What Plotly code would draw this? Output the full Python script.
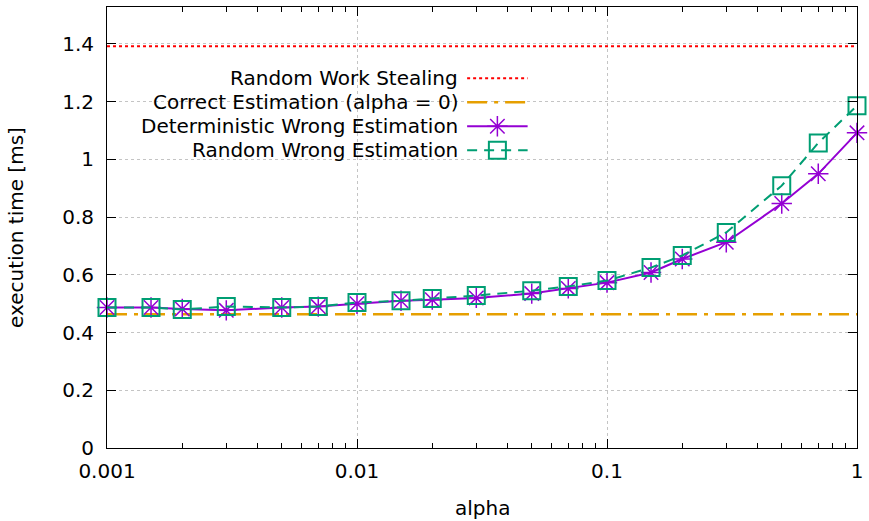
import plotly.graph_objects as go

# alpha values (log scale) and measured execution times [ms]
alpha = [0.001, 0.0015, 0.002, 0.003, 0.005, 0.007, 0.01, 0.015, 0.02, 0.03,
         0.05, 0.07, 0.1, 0.15, 0.2, 0.3, 0.5, 0.7, 1.0]
deterministic_wrong = [0.487, 0.487, 0.482, 0.477, 0.487, 0.490, 0.500, 0.510, 0.514, 0.520,
                       0.535, 0.553, 0.573, 0.608, 0.655, 0.713, 0.847, 0.950, 1.092]
random_wrong = [0.487, 0.487, 0.480, 0.490, 0.487, 0.490, 0.504, 0.510, 0.518, 0.528,
                0.545, 0.560, 0.580, 0.625, 0.667, 0.747, 0.909, 1.057, 1.186]
random_work_stealing = 1.392
correct_estimation = 0.463

x_ticks = [0.001, 0.01, 0.1, 1]
x_ticktext = ["0.001", "0.01", "0.1", "1"]
x_minor = [m * d for d in (0.001, 0.01, 0.1) for m in range(2, 10)]
y_ticks = [0, 0.2, 0.4, 0.6, 0.8, 1.0, 1.2, 1.4]
y_ticktext = ["0", "0.2", "0.4", "0.6", "0.8", "1", "1.2", "1.4"]

legend_names = ["Random Work Stealing", "Correct Estimation (alpha = 0)",
                "Deterministic Wrong Estimation", "Random Wrong Estimation"]

RED = "#ff0000"
ORANGE = "#e69f00"
PURPLE = "#9400d3"
GREEN = "#009e73"
FONT = "DejaVu Sans"
FS = 20

W, H = 869, 521
L, R, T, B = 107, 6, 6, 73

styles = [
    dict(color=RED, width=2, dash="dot"),
    dict(color=ORANGE, width=2.5, dash="20px,7px,4px,7px"),
    dict(color=PURPLE, width=2),
    dict(color=GREEN, width=2, dash="10px,7px"),
]
star = dict(symbol="asterisk-open", size=17, color=PURPLE,
            line=dict(color=PURPLE, width=1.5))
box = dict(symbol="square-open", size=17, color=GREEN,
           line=dict(color=GREEN, width=2))

fig = go.Figure()

x_span = [alpha[0], alpha[-1]]
fig.add_trace(go.Scatter(x=x_span, y=[random_work_stealing] * 2, mode="lines",
                         line=styles[0], showlegend=False, hoverinfo="skip"))
fig.add_trace(go.Scatter(x=x_span, y=[correct_estimation] * 2, mode="lines",
                         line=styles[1], showlegend=False, hoverinfo="skip"))
fig.add_trace(go.Scatter(x=alpha, y=deterministic_wrong, mode="lines+markers",
                         line=styles[2], marker=star,
                         showlegend=False, cliponaxis=False))
fig.add_trace(go.Scatter(x=alpha, y=random_wrong, mode="lines+markers",
                         line=styles[3], marker=box,
                         showlegend=False, cliponaxis=False))

# key drawn in pixel-like overlay coordinates (text right-aligned, sample to the right)
key_rows = [77.5, 101.5, 125.5, 149.5]
key_text_right = 463
key_x0, key_x1 = 470, 531
markers = [None, None, star, box]
for name, yy, st, mk in zip(legend_names, key_rows, styles, markers):
    fig.add_trace(go.Scatter(x=[key_x0, key_x1], y=[yy, yy], mode="lines",
                             line=st, xaxis="x2", yaxis="y2",
                             showlegend=False, hoverinfo="skip"))
    if mk is not None:
        fig.add_trace(go.Scatter(x=[(key_x0 + key_x1) / 2], y=[yy], mode="markers",
                                 marker=mk, xaxis="x2", yaxis="y2",
                                 showlegend=False, hoverinfo="skip"))
    fig.add_annotation(x=key_text_right, y=yy, xref="x2", yref="y2", text=name,
                       showarrow=False, xanchor="right", yanchor="middle",
                       font=dict(family=FONT, size=FS, color="#000000"))

axis_common = dict(showline=True, linecolor="#000000", linewidth=1,
                   ticks="inside", ticklen=9, tickcolor="#000000", tickwidth=1,
                   mirror="allticks", zeroline=False, ticklabeloverflow="allow",
                   showgrid=True, gridcolor="#c4c4c4", griddash="dot", gridwidth=1,
                   tickfont=dict(family=FONT, size=FS, color="#000000"))

fig.update_layout(
    width=W, height=H,
    margin=dict(l=L, r=R, t=T, b=B),
    paper_bgcolor="#ffffff", plot_bgcolor="#ffffff",
    showlegend=False,
    xaxis=dict(type="log", range=[-3, 0], tickvals=x_ticks, ticktext=x_ticktext,
               minor=dict(tickmode="array", tickvals=x_minor, ticks="inside",
                          ticklen=5, tickcolor="#000000", showgrid=False),
               ticklabelstandoff=5, **axis_common),
    yaxis=dict(range=[0, 1.528], tickvals=y_ticks, ticktext=y_ticktext,
               ticklabelstandoff=8, **axis_common),
    xaxis2=dict(overlaying="x", range=[L, W - R], visible=False, fixedrange=True),
    yaxis2=dict(overlaying="y", range=[H - B, T], visible=False, fixedrange=True),
    annotations=list(fig.layout.annotations) + [
        dict(text="alpha", x=0.5, y=-0.135, xref="paper", yref="paper",
             showarrow=False, xanchor="center", yanchor="middle",
             font=dict(family=FONT, size=FS, color="#000000")),
        dict(text="execution time [ms]", x=-0.122, y=0.5, xref="paper", yref="paper",
             showarrow=False, textangle=-90, xanchor="center", yanchor="middle",
             font=dict(family=FONT, size=FS, color="#000000")),
    ],
)

fig.write_html("out.html")
